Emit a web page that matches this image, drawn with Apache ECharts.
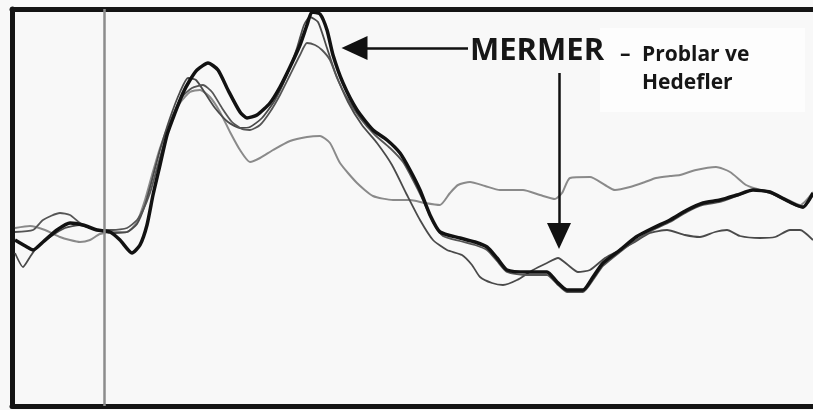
<!DOCTYPE html>
<html>
<head>
<meta charset="utf-8">
<script src="https://cdn.jsdelivr.net/npm/echarts@6/dist/echarts.min.js"></script>
<style>
  html, body { margin: 0; padding: 0; background: #f8f8f8; }
  #erp { width: 813px; height: 410px; }
</style>
</head>
<body>
<div id="erp"></div>
<script>
// zaman (ms) ve genlik (µV)
const timeA = [-178,-154,-142,-122,-94,-68,-42,-14,12,32,56,72,86,98,112,126,142,158,172,186,208,228,248,272,286,306,332,352,372,392,406,416,432,446,458,478,506,538,566,592,612,632,652,672,712,742,766,786,806,846,886,906,926,958,978,998,1032,1064,1098,1132,1166,1198,1232,1266,1298,1332,1364,1384,1398,1418];
const ampA  = [-1.0,-1.7,-2.0,-1.2,0.0,0.7,0.5,0.0,-0.2,-1.0,-2.3,-1.5,0.5,3.5,6.5,9.5,11.7,13.7,15.0,16.0,16.7,16.0,14.0,11.8,11.2,11.5,12.7,14.3,16.3,18.5,20.5,21.8,21.6,20.0,17.5,14.7,12.0,10.0,9.0,7.7,6.0,4.0,1.5,-0.2,-0.8,-1.2,-1.7,-2.8,-4.0,-4.2,-4.2,-5.2,-6.0,-6.0,-4.7,-3.3,-2.0,-0.7,0.2,1.0,2.0,2.7,3.0,3.5,4.0,3.8,3.0,2.5,2.3,3.7];

const timeB = [-178,-142,-122,-88,-68,-48,-28,-8,18,46,66,78,92,106,122,138,156,176,198,216,236,256,276,292,312,332,352,372,392,406,422,436,452,466,486,512,542,572,598,618,638,658,678,712,742,766,786,806,846,886,906,926,958,978,998,1032,1064,1098,1132,1166,1198,1232,1266,1298,1332,1364,1398,1418];
const ampB  = [-0.2,0.0,1.0,1.7,1.5,0.7,0.2,0.0,0.0,0.2,1.0,2.0,3.7,6.2,9.0,11.5,13.3,14.2,14.5,13.8,12.2,10.8,10.1,10.0,10.5,11.8,13.5,15.5,17.5,18.7,18.5,18.0,17.0,15.2,13.2,11.2,9.5,8.2,6.8,5.0,3.0,0.8,-0.6,-1.1,-1.5,-2.0,-3.1,-4.2,-4.5,-4.5,-5.4,-6.2,-6.2,-5.0,-3.6,-2.2,-1.0,0.0,0.8,1.8,2.5,2.8,3.4,4.0,3.7,2.9,2.2,3.5];

const timeC = [-178,-148,-118,-88,-68,-48,-28,-8,22,46,66,82,96,112,132,152,172,192,212,232,252,272,292,312,338,372,406,432,452,472,506,538,578,612,642,672,692,708,732,762,792,838,872,902,916,932,972,1002,1022,1052,1082,1104,1132,1152,1184,1224,1252,1284,1306,1332,1364,1392,1418];
const ampC  = [0.2,0.4,0.0,-0.7,-1.0,-1.2,-1.0,-0.4,-0.2,-0.2,0.8,3.0,5.5,8.2,10.8,12.7,13.8,14.0,13.3,11.8,9.8,8.0,6.8,7.2,8.0,8.9,9.3,9.4,8.7,6.7,4.7,3.4,3.0,3.0,2.7,2.5,3.7,4.5,4.8,4.4,4.0,4.0,3.5,3.1,3.7,5.2,5.3,4.5,4.0,4.3,4.8,5.2,5.4,5.5,6.0,6.3,5.8,4.5,4.1,3.7,3.1,2.5,3.8];

const timeD = [-178,-162,-148,-134,-108,-78,-48,-14,22,46,66,82,96,112,132,152,168,184,202,222,248,272,292,316,342,366,386,400,412,428,444,462,488,516,546,576,606,632,658,686,716,736,752,776,798,826,858,886,908,928,948,972,1002,1032,1058,1092,1126,1162,1192,1222,1246,1272,1312,1342,1372,1392,1418];
const ampD  = [-2.3,-3.7,-2.7,-1.7,-0.7,0.2,0.5,0.0,-0.3,-0.2,0.6,2.5,5.0,8.0,11.2,13.8,15.2,15.0,13.7,12.2,10.8,10.2,10.3,11.2,13.0,15.5,18.2,20.5,21.3,20.8,18.5,15.8,12.8,10.5,8.7,6.5,3.5,1.0,-1.0,-2.0,-2.5,-3.5,-4.7,-5.3,-5.5,-5.0,-4.0,-3.3,-2.8,-3.5,-4.2,-4.0,-2.8,-2.0,-1.3,-0.3,0.0,-0.5,-0.7,-0.2,0.0,-0.6,-0.8,-0.7,0.0,0.0,-1.0];

function pairs(t, a) {
    return t.map((v, i) => [v, a[i]]);
}

let grafik = echarts.init(document.getElementById('erp'));

// çerçeve: sol, alt ve üst eksen çizgileri (sağ kenar resimde kesik)
let cerceve = { show: true, onZero: false, lineStyle: { color: '#141414', width: 5 } };

let options = {
    animation: false,
    backgroundColor: '#f8f8f8',
    grid: { left: 12, right: 0, top: 9, bottom: 4 },
    xAxis: [
        {
            type: 'value', min: -184, max: 1418, position: 'bottom',
            axisLine: cerceve, axisTick: { show: false },
            axisLabel: { show: false }, splitLine: { show: false }
        },
        {
            type: 'value', min: -184, max: 1418, position: 'top',
            axisLine: cerceve, axisTick: { show: false },
            axisLabel: { show: false }, splitLine: { show: false }
        }
    ],
    yAxis: {
        type: 'value', min: -17.6, max: 22.1,
        axisLine: cerceve, axisTick: { show: false },
        axisLabel: { show: false }, splitLine: { show: false }
    },
    graphic: [
        { type: 'rect', z: 0, shape: { x: 600, y: 28, width: 205, height: 84 }, style: { fill: '#fdfdfd' } },
        { type: 'text', z: 100, x: 470, y: 51, style: { text: 'MERMER', font: 'bold 31px "Open Sans"', fill: '#161616', verticalAlign: 'middle' } },
        { type: 'text', z: 100, x: 620, y: 55, style: { text: '–', font: 'bold 21px "Open Sans"', fill: '#161616', verticalAlign: 'middle' } },
        { type: 'text', z: 100, x: 642, y: 55, style: { text: 'Problar ve', font: 'bold 21px "Open Sans"', fill: '#161616', verticalAlign: 'middle' } },
        { type: 'text', z: 100, x: 642, y: 83, style: { text: 'Hedefler', font: 'bold 21px "Open Sans"', fill: '#161616', verticalAlign: 'middle' } }
    ],
    series: [
        {
            name: 'İlgisiz', type: 'line', data: pairs(timeC, ampC),
            showSymbol: false, smooth: 0.2,
            lineStyle: { color: '#8a8a8a', width: 2 },
            markLine: {
                silent: true, symbol: 'none', label: { show: false },
                lineStyle: { color: '#8c8c8c', width: 2.5, type: 'solid' },
                data: [{ xAxis: 0 }]
            }
        },
        {
            name: 'Hedef', type: 'line', data: pairs(timeD, ampD),
            showSymbol: false, smooth: 0.2,
            lineStyle: { color: '#4a4a4a', width: 1.8 }
        },
        {
            name: 'Prob 2', type: 'line', data: pairs(timeB, ampB),
            showSymbol: false, smooth: 0.2,
            lineStyle: { color: '#555555', width: 1.8 }
        },
        {
            name: 'Prob', type: 'line', data: pairs(timeA, ampA),
            showSymbol: false, smooth: 0.2,
            lineStyle: { color: '#121212', width: 3.5 },
            markLine: {
                silent: true, label: { show: false },
                symbol: ['none', 'triangle'], symbolSize: [24, 26],
                lineStyle: { color: '#111111', width: 2.5, type: 'solid' },
                data: [
                    [{ coord: [728, 18.2] }, { coord: [501, 18.2] }],
                    [{ coord: [910, 15.7] }, { coord: [910, -0.6] }]
                ]
            }
        }
    ]
};

grafik.setOption(options);
</script>
</body>
</html>
